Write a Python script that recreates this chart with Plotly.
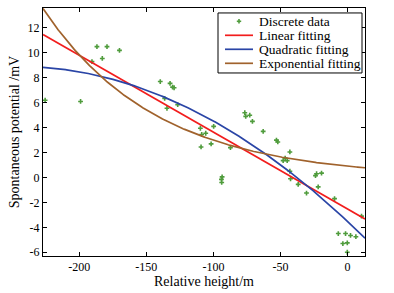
import numpy as np
import plotly.graph_objects as go

# Discrete data (relative height / m, spontaneous potential / mV)
height = [-225.4, -199.0, -190.5, -186.8, -182.8, -179.3, -170.0,
          -139.6, -132.3, -130.4, -129.3, -136.3, -134.6, -126.6,
          -109.7, -105.7, -108.7, -99.8, -101.7, -109.2, -87.3,
          -93.5, -94.0, -93.8, -76.6, -75.9, -72.9, -70.9, -62.9,
          -53.0, -52.0, -43.0, -48.0, -45.0, -46.5, -43.0, -42.5,
          -36.8, -23.9, -23.1, -19.4, -21.9, -30.6, -9.7, 10.4,
          -6.9, -1.5, 2.2, 6.2, -3.5, -0.2, -0.2]
potential = [6.2, 6.1, 9.3, 10.5, 9.55, 10.5, 10.2,
             7.7, 7.55, 7.25, 7.2, 6.35, 5.55, 5.85,
             3.95, 3.55, 3.45, 4.1, 2.7, 2.45, 2.4,
             0.05, -0.15, -0.4, 5.2, 4.9, 5.0, 4.5, 3.7,
             3.0, 2.85, 2.05, 1.35, 1.35, 1.55, 0.5, -0.1,
             -0.55, 0.15, 0.3, 0.35, -0.75, -1.25, -1.7, -3.1,
             -4.5, -4.5, -4.65, -4.75, -5.3, -5.25, -6.0]

# Fitted model coefficients
linear_coef = [-2.53, -0.0617]                # a + b*x
quadratic_coef = [-3.52, -0.101, -0.000205]   # a + b*x + c*x^2
exponential_coef = [0.91, -0.0119]            # A*exp(k*x)

series_names = ["Discrete data", "Linear fitting", "Quadratic fitting", "Exponential fitting"]
series_colors = ["#4f9c3c", "#f21d1d", "#2a45a6", "#a0622c"]

x_range = [-227, 13]
x_ticks = [-200, -150, -100, -50, 0]
x_ticklabels = ["-200", "-150", "-100", "-50", "0"]
y_range = [-6.3, 13.6]
y_ticks = [-6, -4, -2, 0, 2, 4, 6, 8, 10, 12]
y_ticklabels = ["-6", "-4", "-2", "0", "2", "4", "6", "8", "10", "12"]

xf = np.linspace(x_range[0], x_range[1], 300)
y_lin = linear_coef[0] + linear_coef[1] * xf
y_quad = quadratic_coef[0] + quadratic_coef[1] * xf + quadratic_coef[2] * xf ** 2
y_exp = exponential_coef[0] * np.exp(exponential_coef[1] * xf)

font_fam = "Liberation Serif, Times New Roman, serif"

fig = go.Figure()
fig.add_trace(go.Scatter(x=height, y=potential, mode="markers", name=series_names[0],
                         marker=dict(symbol="cross", size=4, color=series_colors[0])))
for yy, nm, col in zip([y_lin, y_quad, y_exp], series_names[1:], series_colors[1:]):
    fig.add_trace(go.Scatter(x=xf, y=yy, mode="lines", name=nm,
                             line=dict(color=col, width=1.7)))

axis_common = dict(showgrid=False, zeroline=False, showline=True, linecolor="black",
                   linewidth=1, mirror="ticks", ticks="inside", ticklen=4,
                   tickcolor="black", tickfont=dict(family=font_fam, size=12, color="black"))

# Custom legend box (paper coordinates)
leg_x0, leg_x1, leg_y0, leg_y1 = 0.5435, 0.9907, 0.738, 0.98
row_y = [0.9464, 0.8899, 0.8335, 0.777]
sample_x0, sample_x1, text_x = 0.5652, 0.6522, 0.6646
mx = (sample_x0 + sample_x1) / 2
dx, dy = 2.2 / 322, 2.2 / 248

shapes = [dict(type="rect", xref="paper", yref="paper", x0=leg_x0, x1=leg_x1,
               y0=leg_y0, y1=leg_y1, line=dict(color="black", width=1),
               fillcolor="white")]
# cross marker sample for discrete data
shapes.append(dict(type="line", xref="paper", yref="paper", x0=mx - dx, x1=mx + dx,
                   y0=row_y[0], y1=row_y[0], line=dict(color=series_colors[0], width=1.6)))
shapes.append(dict(type="line", xref="paper", yref="paper", x0=mx, x1=mx,
                   y0=row_y[0] - dy, y1=row_y[0] + dy, line=dict(color=series_colors[0], width=1.6)))
annotations = []
for i, (nm, col) in enumerate(zip(series_names, series_colors)):
    if i > 0:
        shapes.append(dict(type="line", xref="paper", yref="paper", x0=sample_x0, x1=sample_x1,
                           y0=row_y[i], y1=row_y[i], line=dict(color=col, width=1.7)))
    annotations.append(dict(xref="paper", yref="paper", x=text_x, y=row_y[i], text=nm,
                            showarrow=False, xanchor="left", yanchor="middle",
                            font=dict(family=font_fam, size=13.5, color="black")))

fig.update_layout(
    width=394, height=293,
    margin=dict(l=43, r=29, t=8, b=37),
    paper_bgcolor="white", plot_bgcolor="white",
    font=dict(family=font_fam, size=12, color="black"),
    xaxis=dict(range=x_range, tickvals=x_ticks, ticktext=x_ticklabels,
               title=dict(text="Relative height/m", font=dict(family=font_fam, size=14), standoff=1),
               **axis_common),
    yaxis=dict(range=y_range, tickvals=y_ticks, ticktext=y_ticklabels,
               title=dict(text="Spontaneous potential /mV", font=dict(family=font_fam, size=14), standoff=4),
               **axis_common),
    shapes=shapes,
    annotations=annotations,
    showlegend=False,
)

fig.write_html("out.html", config={"displayModeBar": False},
               post_script="document.body.style.margin='0';")
